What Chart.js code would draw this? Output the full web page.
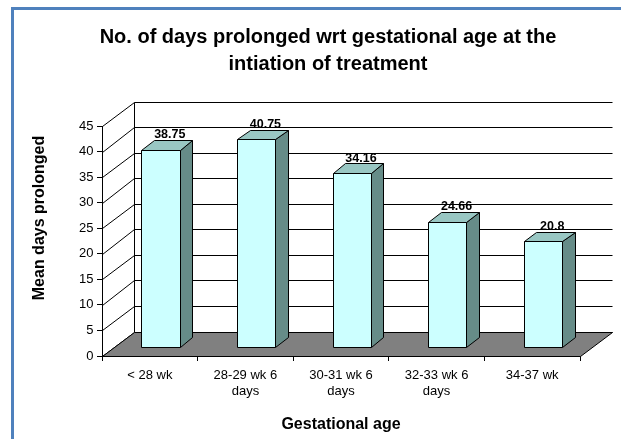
<!DOCTYPE html>
<html>
<head>
<meta charset="utf-8">
<script src="https://cdn.jsdelivr.net/npm/chart.js@4.4.0/dist/chart.umd.min.js"></script>
<style>
  html, body { margin: 0; padding: 0; background: #fff; }
  #wrap { position: relative; width: 621px; height: 439px; overflow: hidden; }
  #frame { position: absolute; left: 11px; top: 7px; right: -10px; bottom: -10px;
           border-left: 3px solid #4f81bd; border-top: 3px solid #4f81bd; }
  canvas { position: absolute; left: 0; top: 0; }
</style>
</head>
<body>
<div id="wrap">
  <div id="frame"></div>
  <canvas id="gestChart" width="621" height="439"></canvas>
</div>
<script>
// Data
const categories = [
    '< 28 wk',
    ['28-29 wk 6', 'days'],
    ['30-31 wk 6', 'days'],
    ['32-33 wk 6', 'days'],
    '34-37 wk'
];
const meanDays = [38.75, 40.75, 34.16, 24.66, 20.8];
const yTicks = [0, 5, 10, 15, 20, 25, 30, 35, 40, 45];

const FONT = '"Liberation Sans", Arial, sans-serif';

// 3D look (Excel style): depth of the box, and where the bars sit in it
const DEPTH_X = 31.5, DEPTH_Y = -24.5;
const BAR_FRONT = 0.34, BAR_DEPTH = 0.40;

function px(v) { return Math.round(v) + 0.5; }

function poly(ctx, pts, fill) {
    ctx.beginPath();
    ctx.moveTo(px(pts[0][0]), px(pts[0][1]));
    for (let i = 1; i < pts.length; i++) ctx.lineTo(px(pts[i][0]), px(pts[i][1]));
    ctx.closePath();
    if (fill) { ctx.fillStyle = fill; ctx.fill(); }
    ctx.stroke();
}

const box3d = {
    id: 'box3d',
    beforeDatasetsDraw(chart) {
        const ctx = chart.ctx;
        const xs = chart.scales.x, ys = chart.scales.y;
        const left = xs.left, right = xs.right;
        const y0 = ys.getPixelForValue(0);
        const yMax = ys.getPixelForValue(yTicks[yTicks.length - 1]);
        ctx.save();
        ctx.lineWidth = 1;
        ctx.strokeStyle = '#000';
        // side wall diagonals + back wall gridlines
        yTicks.forEach(function(v) {
            const py = ys.getPixelForValue(v);
            ctx.beginPath();
            ctx.moveTo(px(left), px(py));
            ctx.lineTo(px(left + DEPTH_X), px(py + DEPTH_Y));
            ctx.lineTo(px(right + DEPTH_X), px(py + DEPTH_Y));
            ctx.stroke();
        });
        // back wall left edge
        ctx.beginPath();
        ctx.moveTo(px(left + DEPTH_X), px(y0 + DEPTH_Y));
        ctx.lineTo(px(left + DEPTH_X), px(yMax + DEPTH_Y));
        ctx.stroke();
        // floor
        poly(ctx, [[left, y0], [right, y0], [right + DEPTH_X, y0 + DEPTH_Y], [left + DEPTH_X, y0 + DEPTH_Y]], '#808080');
        ctx.restore();
    },
    afterDatasetsDraw(chart) {
        const ctx = chart.ctx;
        const meta = chart.getDatasetMeta(0);
        const ox = BAR_FRONT * DEPTH_X, oy = BAR_FRONT * DEPTH_Y;
        const bx = BAR_DEPTH * DEPTH_X, by = BAR_DEPTH * DEPTH_Y;
        ctx.save();
        ctx.lineWidth = 1;
        ctx.strokeStyle = '#000';
        meta.data.forEach(function(bar, i) {
            const p = bar.getProps(['x', 'y', 'base', 'width'], true);
            const x0 = p.x - p.width / 2 + ox, x1 = p.x + p.width / 2 + ox;
            const yt = p.y + oy, yb = p.base + oy;
            poly(ctx, [[x1, yt], [x1 + bx, yt + by], [x1 + bx, yb + by], [x1, yb]], '#668c88');
            poly(ctx, [[x0, yt], [x0 + bx, yt + by], [x1 + bx, yt + by], [x1, yt]], '#99c7c3');
            poly(ctx, [[x0, yt], [x1, yt], [x1, yb], [x0, yb]], '#ccffff');
            // value label
            ctx.fillStyle = '#000';
            ctx.font = 'bold 12.5px ' + FONT;
            ctx.textAlign = 'center';
            ctx.textBaseline = 'alphabetic';
            ctx.fillText(String(meanDays[i]), (x0 + x1) / 2 + bx / 2 + 3, yt + by - 1.5);
        });
        // y axis title
        ctx.font = 'bold 16px ' + FONT;
        ctx.textAlign = 'center';
        ctx.textBaseline = 'middle';
        ctx.translate(40, 218);
        ctx.rotate(-Math.PI / 2);
        ctx.fillText('Mean days prolonged', 0, 0);
        ctx.restore();
    }
};

const ctx = document.getElementById('gestChart');
new Chart(ctx, {
    type: 'bar',
    data: {
        labels: categories,
        datasets: [{
            label: 'Mean days prolonged',
            data: meanDays,
            backgroundColor: 'rgba(0,0,0,0)',
            borderWidth: 0,
            barPercentage: 0.4,
            categoryPercentage: 1.0
        }]
    },
    options: {
        responsive: false,
        animation: false,
        devicePixelRatio: 1,
        layout: { padding: { left: 76, right: 41, top: 0, bottom: 0 } },
        plugins: {
            legend: { display: false },
            tooltip: { enabled: false },
            title: {
                display: true,
                text: ['No. of days prolonged wrt gestational age at the', 'intiation of treatment'],
                color: '#000',
                font: { family: FONT, size: 20, weight: 'bold', lineHeight: '27.5px' },
                padding: { top: 23.5, bottom: 47.5 }
            }
        },
        scales: {
            x: {
                afterFit: function(scale) { scale.height = 83; },
                grid: { drawOnChartArea: false, drawTicks: true, tickLength: 5, color: '#000', offset: true },
                border: { display: true, color: '#000' },
                ticks: {
                    color: '#000',
                    padding: 7,
                    maxRotation: 0,
                    autoSkip: false,
                    font: { family: FONT, size: 13, lineHeight: 1.2 }
                },
                title: {
                    display: true,
                    text: 'Gestational age',
                    color: '#000',
                    font: { family: FONT, size: 16, weight: 'bold', lineHeight: 1.2 },
                    padding: { top: 0, bottom: 5 }
                }
            },
            y: {
                min: 0,
                max: 45,
                afterFit: function(scale) { scale.width = 26; },
                afterBuildTicks: function(scale) {
                    scale.ticks = yTicks.map(function(v) { return { value: v }; });
                },
                grid: { drawOnChartArea: false, drawTicks: true, tickLength: 5, color: '#000' },
                border: { display: true, color: '#000' },
                ticks: {
                    color: '#000',
                    padding: 3.5,
                    font: { family: FONT, size: 13 }
                }
            }
        }
    },
    plugins: [box3d]
});
</script>
</body>
</html>
